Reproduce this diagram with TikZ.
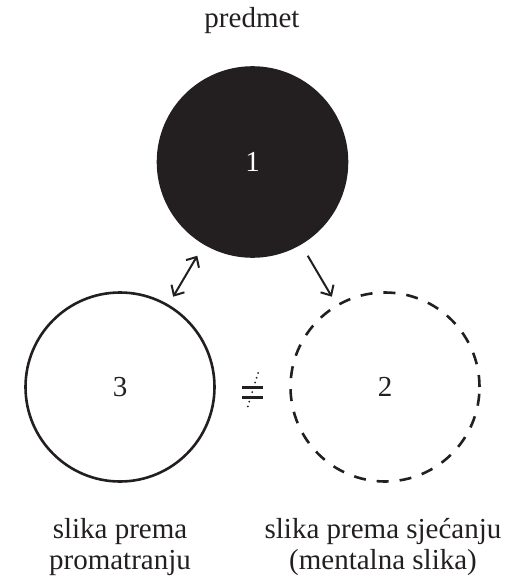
\documentclass[tikz,border=0pt]{standalone}
\usepackage{fontspec}
\setmainfont{Liberation Serif}
\usetikzlibrary{arrows.meta}
\definecolor{ink}{HTML}{231F20}
\begin{document}
\begin{tikzpicture}[x=1pt,y=-1pt,
  circ/.style={circle, minimum size=189pt, inner sep=0pt, line width=2.6pt, draw=ink,
    font=\fontsize{29}{31}\selectfont, text=ink},
  lbl/.style={font=\fontsize{29}{31}\selectfont, text=ink, inner sep=0pt, align=center},
  conn/.style={line width=2pt, draw=ink, -{Straight Barb[length=8pt,width=15pt,line width=2pt]}},
  dconn/.style={line width=2pt, draw=ink, {Straight Barb[length=8pt,width=15pt,line width=2pt]}-{Straight Barb[length=8pt,width=15pt,line width=2pt]}}]
\useasboundingbox (0,0) rectangle (506,580);
\node[lbl, anchor=base] (pred) at (252,28) {predmet};
\node[circ, fill=ink, text=white] (t) at (252.5,162) {1};
\node[circ] (l) at (120,387) {3};
\node[circ, dash pattern=on 12pt off 11pt] (r) at (385,387) {2};
\draw[dconn, shorten <=9pt, shorten >=13pt] (l) -- (t);
\draw[conn, shorten <=13pt, shorten >=9pt] (t) -- (r);
% not-equal sign
\draw[ink, line width=3pt] (242,387) -- (263,387);
\draw[ink, line width=3pt] (242,397) -- (263,397);
\draw[ink, line width=2pt, line cap=round, dash pattern=on 0pt off 5pt] (258,373) -- (247,409);
\node[lbl, anchor=base] (lt) at (120,569) {slika prema\\promatranju};
\node[lbl, anchor=base] (rt) at (383,569) {slika prema sjećanju\\(mentalna slika)};
\end{tikzpicture}
\end{document}
